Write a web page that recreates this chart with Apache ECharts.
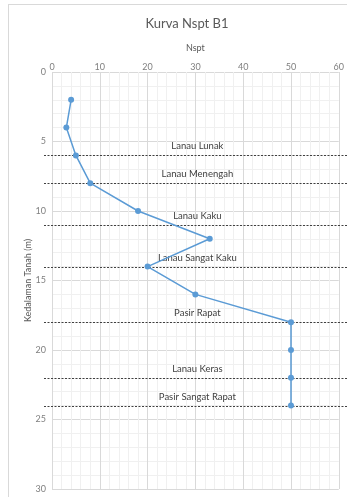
<!DOCTYPE html>
<html>
<head>
<meta charset="utf-8">
<script src="https://cdn.jsdelivr.net/npm/echarts@6/dist/echarts.min.js"></script>
<style>
  html, body { margin: 0; padding: 0; background: #fff; }
  #frame { position: absolute; left: 8px; top: 4px; width: 345px; height: 500px; border: 1px solid #d9d9d9; box-sizing: border-box; }
  #chart { position: absolute; left: 0; top: 0; width: 347px; height: 497px; }
</style>
</head>
<body>
<div id="frame"></div>
<div id="chart"></div>
<script>
// N-SPT values per test depth (m)
const nsptValues = [4, 3, 5, 8, 18, 33, 20, 30, 50, 50, 50, 50];
const depths = [2, 4, 6, 8, 10, 12, 14, 16, 18, 20, 22, 24];

// Soil layer bottoms (m) and layer names
const layerBottoms = [6, 8, 11, 14, 18, 22, 24];
const layerNames = ['Lanau Lunak', 'Lanau Menengah', 'Lanau Kaku', 'Lanau Sangat Kaku',
  'Pasir Rapat', 'Lanau Keras', 'Pasir Sangat Rapat'];

const FONT = 'Lato, "Open Sans", sans-serif';
const chart = echarts.init(document.getElementById('chart'), null, { renderer: 'canvas' });

const points = nsptValues.map((v, i) => [v, depths[i]]);
const layers = layerBottoms.map((d, i) => [0, d, layerNames[i]]);

chart.setOption({
  animation: false,
  backgroundColor: 'transparent',
  title: {
    text: 'Kurva Nspt B1',
    left: 182, top: 12, textAlign: 'center',
    textStyle: { fontFamily: FONT, fontSize: 13, fontWeight: 'normal', color: '#595959' }
  },
  grid: { left: 52, right: 7, top: 72, bottom: 8 },
  xAxis: {
    type: 'value', position: 'top', min: 0, max: 60, interval: 10,
    name: 'Nspt', nameLocation: 'middle', nameGap: 19, nameMoveOverlap: false,
    nameTextStyle: { fontFamily: FONT, fontSize: 9, color: '#595959' },
    axisLine: { show: false }, axisTick: { show: false },
    axisLabel: { fontFamily: FONT, fontSize: 9, color: '#7f7f7f', margin: 0 },
    splitLine: { show: true, lineStyle: { color: '#d9d9d9', width: 1 } },
    minorTick: { show: false, splitNumber: 5 },
    minorSplitLine: { show: true, lineStyle: { color: '#f0f0f0', width: 1 } }
  },
  yAxis: {
    type: 'value', inverse: true, min: 0, max: 30, interval: 5,
    name: 'Kedalaman Tanah (m)', nameLocation: 'middle', nameGap: 19, nameMoveOverlap: false,
    nameTextStyle: { fontFamily: FONT, fontSize: 9, color: '#595959' },
    axisLine: { show: false }, axisTick: { show: false },
    axisLabel: { fontFamily: FONT, fontSize: 9, color: '#7f7f7f', margin: 6 },
    splitLine: { show: true, lineStyle: { color: '#d9d9d9', width: 1 } },
    minorTick: { show: false, splitNumber: 5 },
    minorSplitLine: { show: true, lineStyle: { color: '#f0f0f0', width: 1 } }
  },
  series: [
    {
      type: 'custom',
      clip: false,
      data: layers,
      z: 3,
      renderItem: function (params, api) {
        const cs = params.coordSys;
        const p = api.coord([0, api.value(1)]);
        const y = Math.round(p[1]) + 0.5;
        const cx = cs.x + cs.width / 2 + 2;
        return {
          type: 'group',
          children: [
            {
              type: 'line',
              shape: { x1: cs.x - 8, y1: y, x2: 347, y2: y },
              style: { stroke: '#404040', lineWidth: 1, lineDash: [2, 1.5] }
            },
            {
              type: 'text',
              style: {
                text: api.value(2), x: cx, y: y - 10,
                align: 'center', verticalAlign: 'middle',
                fontFamily: FONT, fontSize: 9.5, fill: '#404040'
              }
            }
          ]
        };
      }
    },
    {
      type: 'line',
      data: points,
      z: 4,
      symbol: 'circle', symbolSize: 6,
      itemStyle: { color: '#5b9bd5' },
      lineStyle: { color: '#5b9bd5', width: 1.5 }
    }
  ]
});
</script>
</body>
</html>
